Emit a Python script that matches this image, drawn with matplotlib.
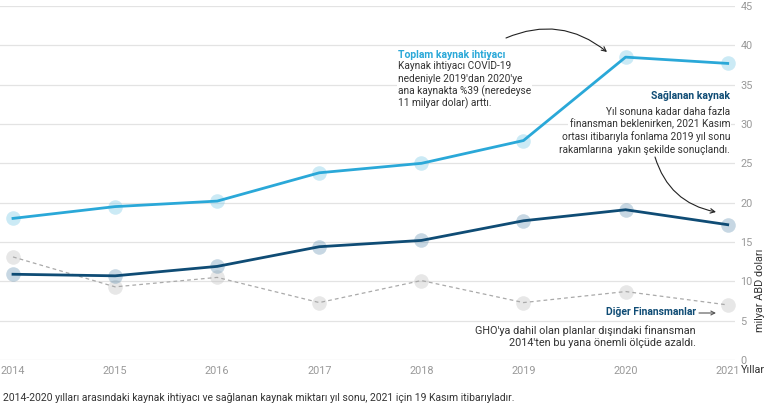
import matplotlib
matplotlib.use("Agg")
import matplotlib.pyplot as plt

years = [2014, 2015, 2016, 2017, 2018, 2019, 2020, 2021]
need = [18.0, 19.5, 20.2, 23.8, 25.0, 27.9, 38.5, 37.7]
provided = [10.9, 10.7, 11.9, 14.4, 15.2, 17.7, 19.1, 17.2]
other = [13.1, 9.3, 10.5, 7.3, 10.1, 7.3, 8.7, 7.0]
yticks = [0, 5, 10, 15, 20, 25, 30, 35, 40, 45]

need_title = "Toplam kaynak ihtiyacı"
need_note = ["Kaynak ihtiyacı COVİD-19", "nedeniyle 2019'dan 2020'ye",
             "ana kaynakta %39 (neredeyse", "11 milyar dolar) arttı."]
prov_title = "Sağlanan kaynak"
prov_note = ["Yıl sonuna kadar daha fazla", "finansman beklenirken, 2021 Kasım",
             "ortası itibarıyla fonlama 2019 yıl sonu",
             "rakamlarına  yakın şekilde sonuçlandı."]
other_title = "Diğer Finansmanlar"
other_note = ["GHO'ya dahil olan planlar dışındaki finansman",
              "2014'ten bu yana önemli ölçüde azaldı."]

C_NEED = "#2aa8d8"
C_PROV = "#0f4c75"
C_OTHER = "#aaaaaa"
C_TEXT = "#333333"

plt.rcParams['font.family'] = ['Roboto', 'DejaVu Sans']

W, H = 767, 412
fig = plt.figure(figsize=(W / 100, H / 100), dpi=100)
ax = fig.add_axes([0, (H - 360) / H, 735 / W, 354 / H])

ax.plot(years, other, color=C_OTHER, lw=0.9, ls=(0, (3, 2.5)), zorder=3)
ax.scatter(years, other, s=110, color="#bbbbbb", alpha=0.35, lw=0, zorder=2)
ax.plot(years, provided, color=C_PROV, lw=2.0, zorder=4)
ax.scatter(years, provided, s=110, color="#5f8fb0", alpha=0.35, lw=0, zorder=3)
ax.plot(years, need, color=C_NEED, lw=2.0, zorder=4)
ax.scatter(years, need, s=110, color="#7fcbe8", alpha=0.4, lw=0, zorder=3)

ax.set_xlim(2014 - 13 / 102.1, 2014 + (735 - 13) / 102.1)
ax.set_ylim(0, 45)
ax.set_xticks(years)
ax.set_xticklabels([str(y) for y in years])
ax.set_yticks(yticks)
ax.yaxis.tick_right()
ax.tick_params(axis='both', length=0, labelsize=7.8, labelcolor="#999999")
ax.tick_params(axis='y', pad=4)
ax.tick_params(axis='x', pad=4)
ax.grid(axis='y', color="#e3e3e3", lw=0.9)
ax.grid(axis='x', visible=False)
for s in ax.spines.values():
    s.set_visible(False)
ax.set_axisbelow(True)


def P(x, y):
    return (x / W, 1 - y / H)


FS = 7.3
bb = dict(boxstyle="square,pad=0.12", fc="white", ec="none")


def block(x, y0, dy, ha, title, tcolor, lines, title_dy, fs=FS):
    items = [(y0, title, tcolor, "bold", FS + 0.2)]
    for i, ln in enumerate(lines):
        items.append((y0 + title_dy + i * dy, ln, C_TEXT, "normal", fs))
    for y, s, c, w, f in items:
        fig.text(*P(x, y), s, color="none", fontsize=f, fontweight=w,
                 va="baseline", ha=ha, bbox=bb, zorder=5)
    for y, s, c, w, f in items:
        fig.text(*P(x, y), s, color=c, fontsize=f, fontweight=w,
                 va="baseline", ha=ha, zorder=6)


block(398, 57.5, 12.5, "left", need_title, C_NEED, need_note, 11.8)
block(730, 99, 12.6, "right", prov_title, C_PROV, prov_note, 16.0)
block(696, 315.3, 11.9, "right", other_title, C_PROV, other_note, 18.5, fs=7.8)

arrow_kw = dict(arrowstyle="->", color="#222222", lw=0.8,
                shrinkA=0, shrinkB=0, mutation_scale=8)
fig.add_artist(matplotlib.patches.FancyArrowPatch(
    P(506, 38), P(607, 52), transform=fig.transFigure,
    connectionstyle="arc3,rad=-0.3", **arrow_kw))
fig.add_artist(matplotlib.patches.FancyArrowPatch(
    P(655, 157), P(716, 212), transform=fig.transFigure,
    connectionstyle="arc3,rad=0.3", **arrow_kw))
fig.add_artist(matplotlib.patches.FancyArrowPatch(
    P(699, 313), P(716, 313), transform=fig.transFigure,
    arrowstyle="->", color="#555555", lw=0.8, shrinkA=0, shrinkB=0,
    mutation_scale=7))

fig.text(*P(741, 370), "Yıllar", color=C_TEXT, fontsize=7.8, va="center", ha="left")
fig.text(*P(760, 332), "milyar ABD doları", color=C_TEXT, fontsize=7.8,
         rotation=90, rotation_mode="anchor", va="center", ha="left")

fig.text(*P(3, 398), "2014-2020 yılları arasındaki kaynak ihtiyacı ve sağlanan kaynak "
         "miktarı yıl sonu, 2021 için 19 Kasım itibarıyladır.",
         color=C_TEXT, fontsize=7.5, va="center", ha="left")

fig.savefig("out.png", dpi=100, facecolor="white")
